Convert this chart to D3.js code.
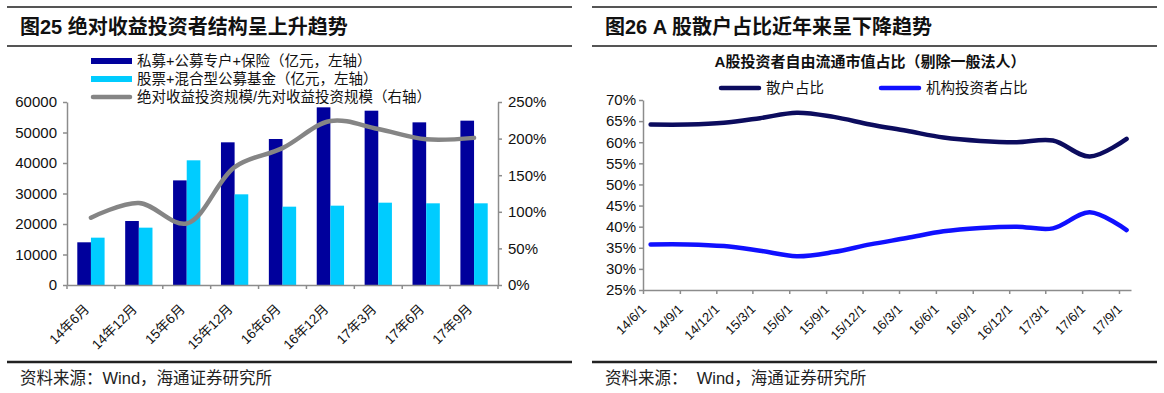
<!DOCTYPE html>
<html><head><meta charset="utf-8">
<script src="https://cdn.jsdelivr.net/npm/d3@7"></script>
<style>
html,body{margin:0;padding:0;background:#fff;}
svg{display:block;font-family:"Liberation Sans","Noto Sans CJK SC",sans-serif;}
</style></head>
<body>
<svg id="c" width="1164" height="393"></svg>
<script>
// ---- Left chart data ----
const leftCategories = ["14年6月","14年12月","15年6月","15年12月","16年6月","16年12月","17年3月","17年6月","17年9月"];
const privateValues = [14000,20980,34300,46780,47870,58250,57150,53330,53880];
const publicFundValues = [15520,18800,40880,29730,25680,26010,26990,26780,26780];
const ratioValues = [0.92,1.12,0.84,1.61,1.87,2.24,2.13,1.99,2.01];
const leftTicks = [0,10000,20000,30000,40000,50000,60000];
const rightTicks = [0,0.5,1.0,1.5,2.0,2.5];
const leftLegend = ["私募+公募专户+保险（亿元，左轴）","股票+混合型公募基金（亿元，左轴）","绝对收益投资规模/先对收益投资规模（右轴）"];

// ---- Right chart data ----
const rightDates = ["2014-06-20","2014-09-20","2014-12-20","2015-03-20","2015-06-20","2015-09-20","2015-12-20","2016-03-20","2016-06-20","2016-09-20","2016-12-20","2017-03-20","2017-06-20","2017-09-20"];
const retailShare = [0.642,0.642,0.646,0.657,0.670,0.660,0.642,0.627,0.611,0.603,0.600,0.604,0.566,0.608];
const institutionShare = [0.358,0.358,0.354,0.343,0.330,0.340,0.358,0.373,0.389,0.397,0.400,0.396,0.434,0.392];
const rightTickLabels = ["14/6/1","14/9/1","14/12/1","15/3/1","15/6/1","15/9/1","15/12/1","16/3/1","16/6/1","16/9/1","16/12/1","17/3/1","17/6/1","17/9/1"];
const pctTicks = [0.25,0.30,0.35,0.40,0.45,0.50,0.55,0.60,0.65,0.70];
const rightLegend = ["散户占比","机构投资者占比"];

const svg = d3.select("#c");
svg.append("rect").attr("width",1164).attr("height",393).attr("fill","#fff");

// Frame lines & titles
function frame(x1,x2,title,source){
  svg.append("line").attr("x1",x1).attr("x2",x2).attr("y1",7).attr("y2",7).attr("stroke","#555").attr("stroke-width",1.8);
  svg.append("line").attr("x1",x1).attr("x2",x2).attr("y1",46).attr("y2",46).attr("stroke","#555").attr("stroke-width",1.8);
  svg.append("line").attr("x1",x1).attr("x2",x2).attr("y1",362).attr("y2",362).attr("stroke","#222").attr("stroke-width",2.5);
  svg.append("text").attr("x",x1+13).attr("y",34).attr("font-size",20).attr("font-weight","bold").attr("fill","#111").text(title);
  svg.append("text").attr("x",x1+13).attr("y",384).attr("font-size",16.5).attr("fill","#222").attr("xml:space","preserve").text(source);
}
frame(7,572,"图25 绝对收益投资者结构呈上升趋势","资料来源：Wind，海通证券研究所");
frame(592,1157,"图26 A 股散户占比近年来呈下降趋势","资料来源：  Wind，海通证券研究所");

// ---------- Left chart ----------
const L = {x0:67, x1:498, y0:285, y1:102};
const xb = d3.scaleBand().domain(leftCategories).range([L.x0,L.x1]).padding(0);
const yl = d3.scaleLinear().domain([0,60000]).range([L.y0,L.y1]);
const yr = d3.scaleLinear().domain([0,2.5]).range([L.y0,L.y1]);
const barW = xb.bandwidth()*0.285;
const gL = svg.append("g");

gL.selectAll("rect.p").data(leftCategories).join("rect")
  .attr("x",d=>xb(d)+xb.bandwidth()/2-barW).attr("width",barW)
  .attr("y",(d,i)=>yl(privateValues[i])).attr("height",(d,i)=>yl(0)-yl(privateValues[i]))
  .attr("fill","#00009c");
gL.selectAll("rect.f").data(leftCategories).join("rect")
  .attr("x",d=>xb(d)+xb.bandwidth()/2).attr("width",barW)
  .attr("y",(d,i)=>yl(publicFundValues[i])).attr("height",(d,i)=>yl(0)-yl(publicFundValues[i]))
  .attr("fill","#00ccff");

// axes
const axCol = "#8c8c8c";
const yAxL = gL.append("g").attr("transform",`translate(${L.x0},0)`)
  .call(d3.axisLeft(yl).tickValues(leftTicks).tickSize(4).tickSizeOuter(0).tickFormat(d3.format("d")));
const yAxR = gL.append("g").attr("transform",`translate(${L.x1},0)`)
  .call(d3.axisRight(yr).tickValues(rightTicks).tickSize(4).tickSizeOuter(0).tickFormat(d=>Math.round(d*100)+"%"));
const xAxL = gL.append("g").attr("transform",`translate(0,${L.y0})`)
  .call(d3.axisBottom(xb).tickSize(0).tickFormat(""));
[yAxL,yAxR,xAxL].forEach(a=>{a.select(".domain").attr("stroke",axCol).attr("stroke-width",1.5);a.selectAll(".tick line").attr("stroke",axCol).attr("stroke-width",1.5);});
yAxL.selectAll("text").attr("font-size",15).attr("fill","#111").attr("font-family","Liberation Sans").attr("x",-10);
yAxR.selectAll("text").attr("font-size",15).attr("fill","#111").attr("font-family","Liberation Sans").attr("x",10);
// boundary ticks
const bounds = leftCategories.map(d=>xb(d)).concat([L.x1]);
gL.selectAll("line.bt").data(bounds).join("line")
  .attr("x1",d=>d).attr("x2",d=>d).attr("y1",L.y0).attr("y2",L.y0+4).attr("stroke",axCol).attr("stroke-width",1.5);
gL.selectAll("text.xl").data(leftCategories).join("text")
  .attr("transform",d=>`translate(${xb(d)+xb.bandwidth()/2-1},${L.y0+25}) rotate(-45)`)
  .attr("text-anchor","end").attr("font-size",13.5).attr("fill","#111").text(d=>d);

// ratio line
const lineL = d3.line().x((d,i)=>xb(leftCategories[i])+xb.bandwidth()/2).y(d=>yr(d)).curve(d3.curveCatmullRom.alpha(0.5));
gL.append("path").attr("d",lineL(ratioValues)).attr("fill","none").attr("stroke","#858585").attr("stroke-width",4.5).attr("stroke-linecap","round");

// legend
const legY = [61,79,97];
gL.append("rect").attr("x",91).attr("y",legY[0]-3).attr("width",41).attr("height",6).attr("fill","#00009c");
gL.append("rect").attr("x",91).attr("y",legY[1]-3).attr("width",41).attr("height",6).attr("fill","#00ccff");
gL.append("line").attr("x1",93).attr("x2",130).attr("y1",legY[2]).attr("y2",legY[2]).attr("stroke","#858585").attr("stroke-width",4.5).attr("stroke-linecap","round");
gL.selectAll("text.lg").data(leftLegend).join("text")
  .attr("x",137).attr("y",(d,i)=>legY[i]).attr("dy","0.36em").attr("font-size",14.5).attr("fill","#111").text(d=>d);

// ---------- Right chart ----------
const R = {x0:643, x1:1131, y0:290, y1:100};
const parse = d3.timeParse("%Y-%m-%d");
const xt = d3.scaleTime().domain([parse("2014-06-01"),parse("2017-10-01")]).range([R.x0,R.x1]);
const yp = d3.scaleLinear().domain([0.25,0.70]).range([R.y0,R.y1]);
const gR = svg.append("g");
const tickDates = d3.timeMonth.range(parse("2014-06-01"),parse("2017-10-01"),3);
const yAx2 = gR.append("g").attr("transform",`translate(${R.x0},0)`)
  .call(d3.axisLeft(yp).tickValues(pctTicks).tickSize(4).tickSizeOuter(0).tickFormat(d=>Math.round(d*100)+"%"));
const xAx2 = gR.append("g").attr("transform",`translate(0,${R.y0})`)
  .call(d3.axisBottom(xt).tickValues(tickDates).tickSize(4).tickSizeOuter(0).tickFormat(""));
[yAx2,xAx2].forEach(a=>{a.select(".domain").attr("stroke",axCol).attr("stroke-width",1.5);a.selectAll(".tick line").attr("stroke",axCol).attr("stroke-width",1.5);});
yAx2.selectAll("text").attr("font-size",15).attr("fill","#111").attr("font-family","Liberation Sans").attr("x",-7);
gR.selectAll("text.xl").data(tickDates).join("text")
  .attr("transform",d=>`translate(${xt(d)+4},${R.y0+20}) rotate(-45)`)
  .attr("text-anchor","end").attr("font-size",13).attr("fill","#111").text((d,i)=>rightTickLabels[i]);

const lineR = arr => d3.line().x((d,i)=>xt(parse(rightDates[i]))).y(d=>yp(d)).curve(d3.curveCatmullRom.alpha(0.5))(arr);
gR.append("path").attr("d",lineR(retailShare)).attr("fill","none").attr("stroke","#0c0c5e").attr("stroke-width",4.5).attr("stroke-linecap","round");
gR.append("path").attr("d",lineR(institutionShare)).attr("fill","none").attr("stroke","#1010ff").attr("stroke-width",4.5).attr("stroke-linecap","round");

gR.append("text").attr("x",870).attr("y",62).attr("dy","0.36em").attr("text-anchor","middle").attr("font-size",15).attr("font-weight","bold").attr("fill","#111").text("A股投资者自由流通市值占比（剔除一般法人）");
const rl = [{x:721,c:"#0c0c5e"},{x:881,c:"#1010ff"}];
rl.forEach((o,i)=>{
  gR.append("line").attr("x1",o.x).attr("x2",o.x+38).attr("y1",88).attr("y2",88).attr("stroke",o.c).attr("stroke-width",4.5).attr("stroke-linecap","round");
  gR.append("text").attr("x",o.x+45).attr("y",88).attr("dy","0.36em").attr("font-size",14.5).attr("fill","#111").text(rightLegend[i]);
});
</script>
</body></html>
